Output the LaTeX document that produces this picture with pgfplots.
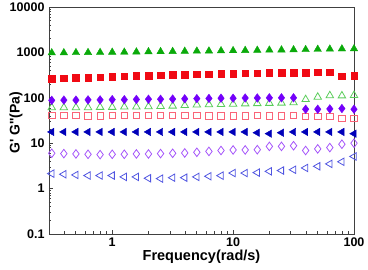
\documentclass[border=0pt]{standalone}
\usepackage{fontspec}
\setmainfont{Liberation Sans}
\usepackage{pgfplots}
\pgfplotsset{compat=1.18}
\definecolor{gA}{RGB}{10,170,10}
\definecolor{rA}{RGB}{240,10,20}
\definecolor{pA}{RGB}{115,0,250}
\definecolor{bA}{RGB}{0,0,185}
\definecolor{gB}{RGB}{90,205,90}
\definecolor{rB}{RGB}{250,100,120}
\definecolor{pB}{RGB}{165,85,250}
\definecolor{bB}{RGB}{80,85,225}
\begin{document}
\begin{tikzpicture}
\useasboundingbox (-49pt,-36pt) rectangle (319pt,234pt);
\begin{axis}[
  at={(0,0)}, anchor=south west,
  scale only axis, width=305pt, height=227pt,
  xmode=log, ymode=log,
  xmin=0.3, xmax=100, ymin=0.1, ymax=10000,
  axis line style={draw=black!75, line width=0.9pt},
  tick pos=left, tick align=inside,
  major tick length=4pt, minor tick length=2.5pt,
  every tick/.style={black!75, line width=0.7pt},
  xtick={1,10,100}, xticklabels={1,10,100},
  ytick={0.1,1,10,100,1000,10000}, yticklabels={0.1,1,10,100,1000,10000},
  minor xtick={0.4,0.5,0.6,0.7,0.8,0.9,2,3,4,5,6,7,8,9,20,30,40,50,60,70,80,90},
  minor ytick={0.2,0.3,0.4,0.5,0.6,0.7,0.8,0.9,2,3,4,5,6,7,8,9,20,30,40,50,60,70,80,90,200,300,400,500,600,700,800,900,2000,3000,4000,5000,6000,7000,8000,9000},
  tick label style={font=\bfseries\fontsize{12.5}{12.5}\selectfont},
  yticklabel style={xshift=-1pt},
  label style={font=\bfseries\fontsize{14.5}{14.5}\selectfont},
  xlabel={Frequency(rad/s)},
  ylabel={G\textquotesingle{} G\textquotesingle\textquotesingle(Pa)},
  ylabel style={at={(axis description cs:-0.108,0.49)}, anchor=center, font=\bfseries\fontsize{14}{14}\selectfont},
  xlabel style={yshift=3pt},
  every axis plot/.append style={only marks},
]
% open blue left triangles
\addplot[mark=triangle, mark size=4.3pt, mark options={rotate=90, draw=bB, line width=0.8pt, fill=none}] coordinates {
(0.3162,2.14)(0.3981,2.07)(0.5012,2.0)(0.6310,1.94)(0.7943,1.94)(1.0,1.94)(1.2589,1.81)(1.5849,1.81)(1.9953,1.69)(2.5119,1.66)(3.1623,1.74)(3.9811,1.74)(5.0119,1.81)(6.3096,1.87)(7.9433,1.93)(10,2.2)(12.589,2.2)(15.849,2.25)(19.953,2.4)(25.119,2.5)(31.623,2.6)(39.811,2.85)(50.119,3.1)(63.096,3.5)(79.433,3.9)(100,5.1)};
% open purple diamonds
\addplot[mark=diamond, mark size=4.3pt, mark options={draw=pB, line width=0.8pt, fill=none}] coordinates {
(0.3162,6.0)(0.3981,5.9)(0.5012,5.8)(0.6310,5.7)(0.7943,5.6)(1.0,5.7)(1.2589,5.7)(1.5849,5.8)(1.9953,5.8)(2.5119,5.9)(3.1623,6.0)(3.9811,6.1)(5.0119,6.3)(6.3096,6.6)(7.9433,6.9)(10,7.1)(12.589,7.1)(15.849,7.2)(19.953,8.5)(25.119,8.5)(31.623,8.8)(39.811,6.9)(50.119,7.5)(63.096,8.0)(79.433,9.5)(100,10.0)};
% open red squares
\addplot[mark=square, mark size=3.2pt, mark options={draw=rB, line width=0.8pt, fill=none}] coordinates {
(0.3162,41)(0.3981,41)(0.5012,41)(0.6310,40)(0.7943,40)(1.0,41)(1.2589,41)(1.5849,41)(1.9953,41)(2.5119,41)(3.1623,41)(3.9811,41)(5.0119,41)(6.3096,40)(7.9433,40)(10,40)(12.589,40)(15.849,41)(19.953,40)(25.119,40)(31.623,41)(39.811,39)(50.119,39)(63.096,39)(79.433,35)(100,35)};
% open green triangles
\addplot[mark=triangle, mark size=4.3pt, mark options={draw=gB, line width=0.8pt, fill=none}] coordinates {
(0.3162,61)(0.3981,61)(0.5012,61)(0.6310,61)(0.7943,62)(1.0,62)(1.2589,63)(1.5849,63)(1.9953,64)(2.5119,65)(3.1623,66)(3.9811,68)(5.0119,70)(6.3096,71)(7.9433,72)(10,73)(12.589,74)(15.849,75)(19.953,76)(25.119,77)(31.623,78)(39.811,92)(50.119,104)(63.096,112)(79.433,111)(100,113)};
% filled blue left triangles
\addplot[mark=triangle*, mark size=4.3pt, mark options={rotate=90, draw=bA, fill=bA}] coordinates {
(0.3162,17.7)(0.3981,17.7)(0.5012,17.7)(0.6310,17.7)(0.7943,17.7)(1.0,17.7)(1.2589,17.7)(1.5849,17.7)(1.9953,17.7)(2.5119,17.7)(3.1623,17.7)(3.9811,17.7)(5.0119,17.7)(6.3096,17.7)(7.9433,17.7)(10,17.7)(12.589,17.7)(15.849,17.0)(19.953,16.2)(25.119,17.0)(31.623,17.7)(39.811,17.7)(50.119,17.7)(63.096,17.7)(79.433,17.7)(100,16.2)};
% filled purple diamonds
\addplot[mark=diamond*, mark size=4.3pt, mark options={draw=pA, fill=pA}] coordinates {
(0.3162,88)(0.3981,89)(0.5012,89)(0.6310,90)(0.7943,90)(1.0,91)(1.2589,91)(1.5849,92)(1.9953,93)(2.5119,93)(3.1623,94)(3.9811,95)(5.0119,96)(6.3096,97)(7.9433,98)(10,98)(12.589,99)(15.849,99)(19.953,100)(25.119,100)(31.623,100)(39.811,56)(50.119,56)(63.096,57)(79.433,58)(100,56)};
% filled red squares
\addplot[mark=square*, mark size=3.3pt, mark options={draw=rA, fill=rA}] coordinates {
(0.3162,265)(0.3981,268)(0.5012,273)(0.6310,280)(0.7943,287)(1.0,293)(1.2589,298)(1.5849,303)(1.9953,308)(2.5119,313)(3.1623,318)(3.9811,323)(5.0119,328)(6.3096,333)(7.9433,338)(10,343)(12.589,347)(15.849,351)(19.953,355)(25.119,358)(31.623,360)(39.811,362)(50.119,364)(63.096,366)(79.433,300)(100,308)};
% filled green triangles
\addplot[mark=triangle*, mark size=4.3pt, mark options={draw=gA, fill=gA}] coordinates {
(0.3162,980)(0.3981,985)(0.5012,990)(0.6310,995)(0.7943,1000)(1.0,1010)(1.2589,1015)(1.5849,1025)(1.9953,1035)(2.5119,1040)(3.1623,1050)(3.9811,1060)(5.0119,1070)(6.3096,1075)(7.9433,1085)(10,1095)(12.589,1105)(15.849,1115)(19.953,1125)(25.119,1135)(31.623,1145)(39.811,1155)(50.119,1170)(63.096,1185)(79.433,1195)(100,1200)};
\end{axis}
\end{tikzpicture}
\end{document}
